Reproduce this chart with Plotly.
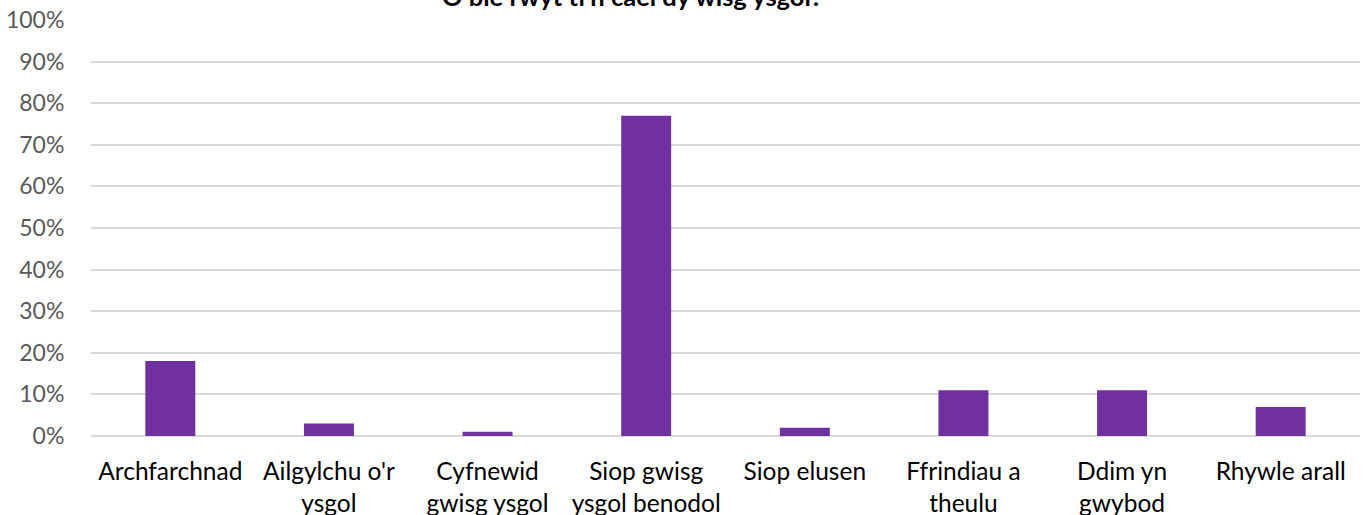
import plotly.graph_objects as go

categories = ["Archfarchnad", "Ailgylchu o'r<br>ysgol", "Cyfnewid<br>gwisg ysgol",
              "Siop gwisg<br>ysgol benodol", "Siop elusen", "Ffrindiau a<br>theulu",
              "Ddim yn<br>gwybod", "Rhywle arall"]
values = [0.18, 0.03, 0.01, 0.77, 0.02, 0.11, 0.11, 0.07]
title_text = "O ble rwyt ti'n cael dy wisg ysgol?"

W, H = 1368, 515
L, R, T, B = 91, 8, 20, 79

fig = go.Figure(go.Bar(x=categories, y=values, marker_color="#7030A0",
                       marker_line_width=0))

plot_h = H - T - B
plot_w = W - L - R
fig.add_annotation(text="<b>" + title_text + "</b>", xref="paper", yref="paper",
                   x=(632 - L) / plot_w, y=1 + (T + 4) / plot_h,
                   xanchor="center", yanchor="middle", showarrow=False,
                   font=dict(family="Lato", size=25.5, color="#000000"))

fig.update_layout(
    width=W, height=H,
    margin=dict(l=L, r=R, t=T, b=B, pad=0),
    plot_bgcolor="white", paper_bgcolor="white",
    bargap=0.685,
    showlegend=False,
    font=dict(family="Lato"),
)
fig.update_xaxes(tickfont=dict(size=24.5, color="#000000"), showline=False,
                 ticks="outside", ticklen=14, tickcolor="rgba(0,0,0,0)",
                 showgrid=False, automargin=False)
fig.update_yaxes(range=[0, 1], dtick=0.1, tickformat=".0%",
                 tickfont=dict(size=23, color="#595959"),
                 showgrid=True, gridcolor="#D9D9D9", gridwidth=1.5,
                 zeroline=True, zerolinecolor="#D9D9D9", zerolinewidth=1.5,
                 ticks="outside", ticklen=21, tickcolor="rgba(0,0,0,0)",
                 automargin=False)

fig.write_html("out.html", config={"displayModeBar": False},
               post_script="document.body.style.margin='0';document.body.style.overflow='hidden';")
